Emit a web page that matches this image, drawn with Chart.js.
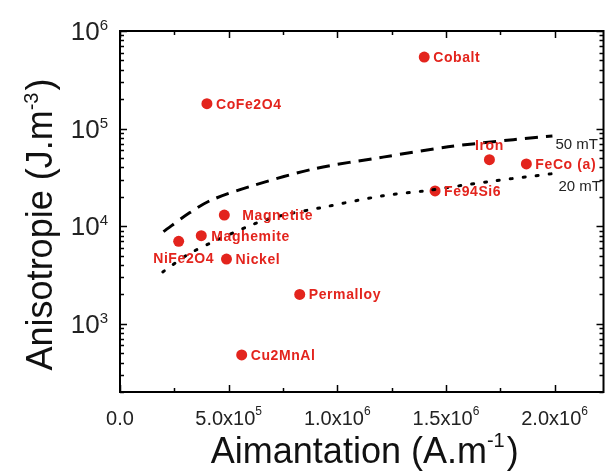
<!DOCTYPE html>
<html>
<head>
<meta charset="utf-8">
<script src="https://cdn.jsdelivr.net/npm/chart.js@4/dist/chart.umd.min.js"></script>
<style>
  html, body { margin: 0; padding: 0; background: #fff; }
  #wrap { width: 609px; height: 475px; }
</style>
</head>
<body>
<div id="wrap"><canvas id="chart" width="609" height="475"></canvas></div>
<script>
// Materials: magnetisation (A/m) vs anisotropy (J/m3)
const names = ['Cobalt', 'CoFe2O4', 'Iron', 'FeCo (a)', 'Fe94Si6', 'Magnetite', 'Maghemite', 'NiFe2O4', 'Nickel', 'Permalloy', 'Cu2MnAl'];
const magnetisation = [1.40e6, 4.0e5, 1.70e6, 1.87e6, 1.45e6, 4.8e5, 3.74e5, 2.7e5, 4.9e5, 8.27e5, 5.6e5];
const anisotropy = [5.4e5, 1.8e5, 4.8e4, 4.35e4, 2.3e4, 1.3e4, 8.0e3, 7.0e3, 4.6e3, 2.0e3, 4.8e2];

// 50 mT curve (dashed)
const field50X = [2.0e5, 3.2e5, 4.2e5, 6.1e5, 9.0e5, 1.21e6, 1.51e6, 1.81e6, 1.99e6];
const field50Y = [8.8e3, 1.37e4, 1.85e4, 2.6e4, 3.9e4, 5.1e4, 6.5e4, 7.7e4, 8.4e4];

// 20 mT curve (dotted)
const field20X = [1.97e5, 3.3e5, 6.2e5, 7.4e5, 9.2e5, 1.21e6, 1.40e6, 1.69e6, 1.99e6];
const field20Y = [3.4e3, 5.4e3, 1.06e4, 1.28e4, 1.54e4, 2.05e4, 2.3e4, 2.85e4, 3.45e4];

// tick values
const xMajor = [0, 5e5, 1e6, 1.5e6, 2e6];
const xMinor = [2.5e5, 7.5e5, 1.25e6, 1.75e6];
const yMajor = [1e3, 1e4, 1e5, 1e6];
const yMantissa = [2, 3, 4, 5, 6, 7, 8, 9];

const FONT = '"Liberation Sans", Arial, Helvetica, sans-serif';
const RED = '#e3241d';

// label placement: [align, dx, dy]
const labelPlace = {
  'Iron': ['center', 0, -15],
  'NiFe2O4': ['center', 5, 17],
  'Magnetite': ['left', 18, 0],
  'Maghemite': ['left', 10, 0],
};

function toXY(xs, ys) {
  return xs.map((x, i) => ({ x: x, y: ys[i] }));
}

// draws base text followed by a raised superscript, returns total width
function supText(ctx, base, sup, x, y, opt) {
  ctx.font = opt.baseFont;
  const wb = ctx.measureText(base).width;
  ctx.font = opt.supFont;
  const ws = ctx.measureText(sup).width;
  ctx.font = opt.baseFont;
  const wt = opt.tail ? ctx.measureText(opt.tail).width : 0;
  const total = wb + ws + (opt.gap || 0) + wt;
  let x0 = x;
  if (opt.align === 'right') x0 = x - total;
  else if (opt.align === 'center') x0 = x - total / 2;
  ctx.textAlign = 'left';
  ctx.textBaseline = 'alphabetic';
  ctx.font = opt.baseFont;
  ctx.fillText(base, x0, y);
  ctx.font = opt.supFont;
  ctx.fillText(sup, x0 + wb, y - opt.rise);
  if (opt.tail) {
    ctx.font = opt.baseFont;
    ctx.fillText(opt.tail, x0 + wb + ws + (opt.gap || 0), y);
  }
  return total;
}

const pointLabels = {
  id: 'pointLabels',
  afterDatasetsDraw(chart) {
    const ctx = chart.ctx;
    const meta = chart.getDatasetMeta(2);
    ctx.save();
    ctx.fillStyle = RED;
    ctx.font = 'bold 14px ' + FONT;
    if ('letterSpacing' in ctx) ctx.letterSpacing = '0.6px';
    ctx.textBaseline = 'middle';
    meta.data.forEach((pt, i) => {
      const p = labelPlace[names[i]] || ['left', 9, 0];
      ctx.textAlign = p[0];
      ctx.fillText(names[i], pt.x + p[1], pt.y + p[2] + 1);
    });
    if ('letterSpacing' in ctx) ctx.letterSpacing = '0px';
    // field annotations at curve ends
    ctx.fillStyle = '#222';
    ctx.font = '15px ' + FONT;
    ctx.textAlign = 'left';
    const m50 = chart.getDatasetMeta(0).data;
    const m20 = chart.getDatasetMeta(1).data;
    const e50 = m50[m50.length - 1];
    const e20 = m20[m20.length - 1];
    ctx.fillText('50 mT', e50.x + 3, e50.y + 9);
    ctx.fillText('20 mT', e20.x + 6, e20.y + 13);
    ctx.restore();
  }
};

const frameAxes = {
  id: 'frameAxes',
  afterDraw(chart) {
    const ctx = chart.ctx;
    const a = chart.chartArea;
    const xs = chart.scales.x;
    const ys = chart.scales.y;
    ctx.save();
    ctx.strokeStyle = '#000';
    ctx.lineWidth = 2;
    ctx.strokeRect(a.left, a.top, a.right - a.left, a.bottom - a.top);

    ctx.lineWidth = 1.5;
    ctx.beginPath();
    const tick = (x1, y1, x2, y2) => { ctx.moveTo(x1, y1); ctx.lineTo(x2, y2); };
    xMajor.forEach(v => {
      const px = Math.round(xs.getPixelForValue(v)) + 0.5;
      tick(px, a.bottom, px, a.bottom - 7);
      tick(px, a.top, px, a.top + 7);
    });
    xMinor.forEach(v => {
      const px = Math.round(xs.getPixelForValue(v)) + 0.5;
      tick(px, a.bottom, px, a.bottom - 4);
      tick(px, a.top, px, a.top + 4);
    });
    yMajor.forEach(v => {
      const py = Math.round(ys.getPixelForValue(v)) + 0.5;
      tick(a.left, py, a.left + 7, py);
      tick(a.right, py, a.right - 7, py);
    });
    [100, 1000, 10000, 100000].forEach(dec => {
      yMantissa.forEach(m => {
        const v = m * dec;
        if (v < ys.min || v > ys.max) return;
        const py = Math.round(ys.getPixelForValue(v)) + 0.5;
        tick(a.left, py, a.left + 4, py);
        tick(a.right, py, a.right - 4, py);
      });
    });
    ctx.stroke();

    // tick labels
    ctx.fillStyle = '#222';
    yMajor.forEach(v => {
      const py = ys.getPixelForValue(v);
      supText(ctx, '10', String(Math.round(Math.log10(v))), 108, py + 9,
        { align: 'left', baseFont: '26px ' + FONT, supFont: '15px ' + FONT, rise: 10, align: 'right' });
    });
    xMajor.forEach(v => {
      const px = xs.getPixelForValue(v);
      if (v === 0) {
        ctx.font = '20px ' + FONT;
        ctx.textAlign = 'center';
        ctx.textBaseline = 'alphabetic';
        ctx.fillText('0.0', px, 425);
        return;
      }
      const e = Math.floor(Math.log10(v));
      const mant = (v / Math.pow(10, e)).toFixed(1);
      supText(ctx, mant + 'x10', String(e), px, 425,
        { align: 'center', baseFont: '20px ' + FONT, supFont: '12px ' + FONT, rise: 10 });
    });

    // axis titles
    ctx.fillStyle = '#111';
    supText(ctx, 'Aimantation (A.m', '-1', (a.left + a.right) / 2 + 3, 463,
      { align: 'center', baseFont: '36px ' + FONT, supFont: '20px ' + FONT, rise: 16, tail: ')', gap: 2 });
    ctx.save();
    ctx.translate(52, (a.top + a.bottom) / 2 + 13);
    ctx.rotate(-Math.PI / 2);
    supText(ctx, 'Anisotropie (J.m', '-3', 0, 0,
      { align: 'center', baseFont: '36px ' + FONT, supFont: '20px ' + FONT, rise: 14, tail: ')', gap: 2 });
    ctx.restore();
    ctx.restore();
  }
};

new Chart(document.getElementById('chart'), {
  type: 'scatter',
  data: {
    datasets: [
      {
        label: '50 mT',
        data: toXY(field50X, field50Y),
        showLine: true,
        borderColor: '#000',
        borderWidth: 3,
        borderDash: [13, 8],
        pointRadius: 0,
        tension: 0.3,
        fill: false,
      },
      {
        label: '20 mT',
        data: toXY(field20X, field20Y),
        showLine: true,
        borderColor: '#000',
        borderWidth: 3,
        borderDash: [2, 11],
        borderCapStyle: 'round',
        pointRadius: 0,
        tension: 0.3,
        fill: false,
      },
      {
        label: 'Materials',
        data: toXY(magnetisation, anisotropy),
        backgroundColor: RED,
        borderColor: RED,
        pointRadius: 5.5,
        pointBorderWidth: 0,
      },
    ],
  },
  options: {
    responsive: false,
    animation: false,
    layout: { padding: { left: 120, top: 31, right: 3, bottom: 83 } },
    scales: {
      x: { type: 'linear', display: false, min: 0, max: 2.225e6 },
      y: { type: 'logarithmic', display: false, min: 200, max: 1e6 },
    },
    plugins: {
      legend: { display: false },
      tooltip: { enabled: false },
    },
  },
  plugins: [pointLabels, frameAxes],
});
</script>
</body>
</html>
